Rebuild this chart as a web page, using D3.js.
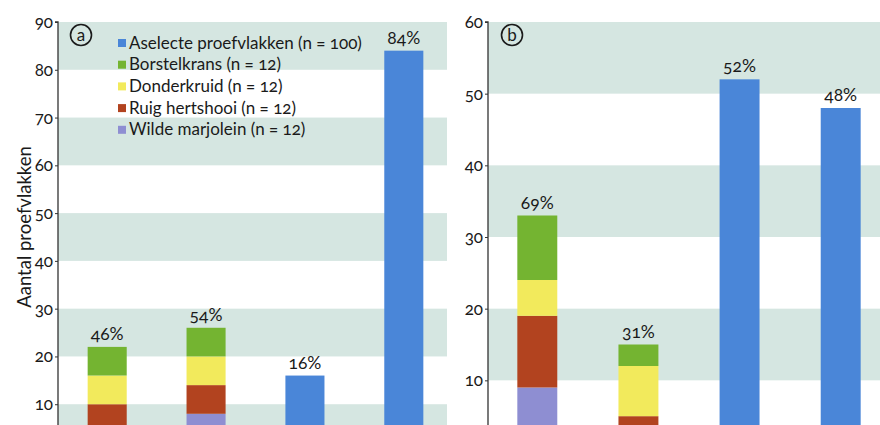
<!DOCTYPE html>
<html><head><meta charset="utf-8">
<script src="https://cdn.jsdelivr.net/npm/d3@7"></script>
<style>
body{margin:0;background:#fff;}
svg text{font-family:Lato,"Open Sans",sans-serif;font-variant-numeric:oldstyle-nums;fill:#1a1a1a;}
</style></head><body>
<svg id="c" width="880" height="425"></svg>
<script>
// ---- data ----
const legendLabels = ["Aselecte proefvlakken (n = 100)","Borstelkrans (n = 12)","Donderkruid (n = 12)","Ruig hertshooi (n = 12)","Wilde marjolein (n = 12)"];
const categoriesA = ["A1","A2","A3","A4"];
const categoriesB = ["B1","B2","B3","B4"];
// stacked species values per bar (bars 1,2); random plots (bars 3,4)
const wildeA = [4, 8, 0, 0];
const ruigA = [6, 6, 0, 0];
const donderA = [6, 6, 0, 0];
const borstelA = [6, 6, 0, 0];
const aselectA = [0, 0, 16, 84];
const pctA = ["46%","54%","16%","84%"];
const wildeB = [9, 3, 0, 0];
const ruigB = [10, 2, 0, 0];
const donderB = [5, 7, 0, 0];
const borstelB = [9, 3, 0, 0];
const aselectB = [0, 0, 52, 48];
const pctB = ["69%","31%","52%","48%"];
const ticksA = [10,20,30,40,50,60,70,80,90];
const ticksB = [10,20,30,40,50,60];
const bandsA = [[0,10],[20,30],[40,50],[60,70],[80,90]];
const bandsB = [[10,20],[30,40],[50,60]];

const colors = {"Aselect":"#4a86d8","Borstelkrans":"#74b431","Donderkruid":"#f2ea5c","Ruig hertshooi":"#b2431f","Wilde marjolein":"#8e8ed2"};
const bandColor = "#d5e6e1";

const svg = d3.select("#c");

function panel(o){
  const g = svg.append("g");
  const y = d3.scaleLinear().domain([0,o.max]).range([452,22]);
  const x = d3.scaleBand().domain(o.cats).range(o.xr).paddingInner(0.605).paddingOuter(o.po);
  g.selectAll("rect.band").data(o.bands).join("rect")
    .attr("x", o.axisX).attr("width", o.bandEnd - o.axisX)
    .attr("y", d=>y(d[1])).attr("height", d=>y(d[0])-y(d[1]))
    .attr("fill", bandColor);
  const rows = o.cats.map((c,i)=>({cat:c,"Wilde marjolein":o.w[i],"Ruig hertshooi":o.r[i],"Donderkruid":o.d[i],"Borstelkrans":o.b[i],"Aselect":o.a[i]}));
  const stack = d3.stack().keys(["Wilde marjolein","Ruig hertshooi","Donderkruid","Borstelkrans","Aselect"])(rows);
  stack.forEach(s=>{
    g.selectAll(null).data(s.filter(d=>d[1]>d[0])).join("rect")
      .attr("x", d=>x(d.data.cat)).attr("width", x.bandwidth())
      .attr("y", d=>y(d[1])).attr("height", d=>y(d[0])-y(d[1]))
      .attr("fill", colors[s.key]);
  });
  const tot = rows.map(r=>r["Wilde marjolein"]+r["Ruig hertshooi"]+r["Donderkruid"]+r["Borstelkrans"]+r["Aselect"]);
  g.selectAll(null).data(o.cats).join("text")
    .attr("x", d=>x(d)+x.bandwidth()/2).attr("y",(d,i)=>y(tot[i])-7)
    .attr("text-anchor","middle").attr("font-size",17.5).text((d,i)=>o.pct[i]);
  const ax = g.append("g").attr("transform",`translate(${o.axisX},0)`)
    .call(d3.axisLeft(y).tickValues(o.ticks).tickSize(3).tickPadding(2).tickFormat(d3.format("d")));
  ax.select(".domain").attr("stroke","#333").attr("stroke-width",1.3).attr("d",`M-3,${y(o.max)}H0V460`);
  ax.selectAll(".tick line").attr("stroke","#333");
  ax.selectAll(".tick text").attr("font-size",17).attr("fill","#1a1a1a").style("font-family","Lato, sans-serif");
  g.append("circle").attr("cx",o.lx).attr("cy",35).attr("r",10.5).attr("fill","none").attr("stroke","#1a1a1a").attr("stroke-width",1.6);
  g.append("text").attr("x",o.lx).attr("y",41).attr("text-anchor","middle").attr("font-size",17).text(o.letter);
}

panel({max:90,cats:categoriesA,xr:[58,453],po:0.3,axisX:58,bandEnd:447,bands:bandsA,
  w:wildeA,r:ruigA,d:donderA,b:borstelA,a:aselectA,pct:pctA,ticks:ticksA,lx:81,letter:"a"});
panel({max:60,cats:categoriesB,xr:[488,890],po:0.29,axisX:488,bandEnd:880,bands:bandsB,
  w:wildeB,r:ruigB,d:donderB,b:borstelB,a:aselectB,pct:pctB,ticks:ticksB,lx:512,letter:"b"});

const legKeys = ["Aselect","Borstelkrans","Donderkruid","Ruig hertshooi","Wilde marjolein"];
const lg = svg.append("g").attr("transform","translate(118,43)");
legKeys.forEach((k,i)=>{
  lg.append("rect").attr("x",0).attr("y",i*21.7-4).attr("width",8).attr("height",8).attr("fill",colors[k]);
  lg.append("text").attr("x",11).attr("y",i*21.7+5.5).attr("font-size",17).text(legendLabels[i]);
});

svg.append("text").attr("transform","translate(31,227) rotate(-90)").attr("text-anchor","middle")
  .attr("font-size",18.5).text("Aantal proefvlakken");
</script>
</body></html>
